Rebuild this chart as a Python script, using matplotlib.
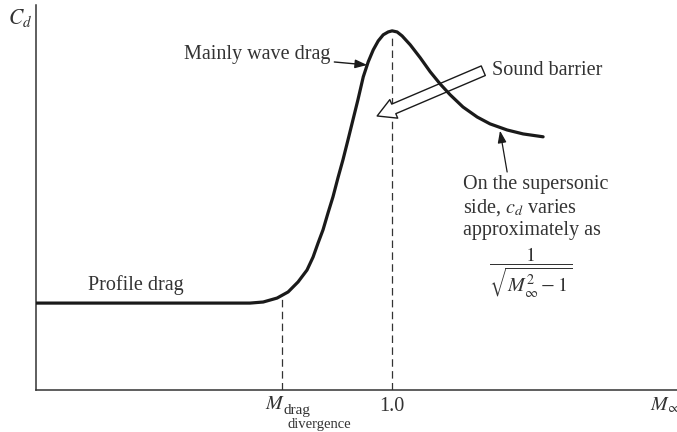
import matplotlib
matplotlib.use("Agg")
import matplotlib.pyplot as plt
from matplotlib.patches import FancyArrowPatch, ArrowStyle

plt.rcParams['font.family'] = ['Liberation Serif', 'DejaVu Serif']
plt.rcParams['mathtext.fontset'] = 'stix'

# Drag coefficient vs free-stream Mach number (schematic)
mach = [0.0, 0.601, 0.638, 0.677, 0.708, 0.736, 0.761, 0.778, 0.792, 0.806,
        0.820, 0.834, 0.848, 0.862, 0.876, 0.890, 0.904, 0.919, 0.933, 0.947,
        0.961, 0.975, 0.989, 1.000, 1.014, 1.028, 1.051, 1.079, 1.107, 1.135,
        1.163, 1.199, 1.239, 1.275, 1.323, 1.368, 1.424]
cd = [0.242, 0.242, 0.245, 0.256, 0.273, 0.301, 0.334, 0.370, 0.409, 0.446,
      0.493, 0.538, 0.591, 0.641, 0.696, 0.752, 0.808, 0.872, 0.914, 0.947,
      0.972, 0.989, 0.997, 1.000, 0.997, 0.986, 0.961, 0.925, 0.886, 0.852,
      0.822, 0.788, 0.760, 0.741, 0.724, 0.713, 0.705]
m_dd = 0.69
m_sonic = 1.0
tick_labels = ['1.0']

FS = 14.5
ink = '#1a1a1a'
txt = '#333333'

fig = plt.figure(figsize=(6.77, 4.32), dpi=100)
ax = fig.add_axes([36/677, 42/432, 1 - 36/677, 385/432])
ax.set_xlim(0, 1.80)
ax.set_ylim(0, 1.072)
for s in ['top', 'right']:
    ax.spines[s].set_visible(False)
for s in ['left', 'bottom']:
    ax.spines[s].set_linewidth(1.1)
    ax.spines[s].set_color(txt)
ax.set_yticks([])
ax.set_xticks([m_sonic])
ax.set_xticklabels(tick_labels, fontsize=FS, color=txt)
ax.tick_params(axis='x', length=0, pad=5)

# dashed guide lines
dash = (0, (6, 3.5))
ax.plot([m_dd, m_dd], [0, 0.265], color=txt, lw=0.9, ls=dash, zorder=1)
ax.plot([m_sonic, m_sonic], [0, 0.985], color=txt, lw=0.9, ls=dash, zorder=1)

# curve
ax.plot(mach, cd, color=ink, lw=2.3, solid_capstyle='round',
        solid_joinstyle='round', zorder=4)

# hollow "sound barrier" arrow
arr = FancyArrowPatch((1.256, 0.889), (0.958, 0.763),
                      arrowstyle=ArrowStyle.Simple(head_length=13, head_width=14.5,
                                                   tail_width=7.5),
                      mutation_scale=1, fc='white', ec=ink, lw=1.0,
                      shrinkA=0, shrinkB=0, zorder=3)
ax.add_patch(arr)
ax.text(1.281, 0.891, 'Sound barrier', fontsize=FS, ha='left', va='center',
        color=txt)

# Mainly wave drag
ax.annotate('Mainly wave drag', xy=(0.930, 0.905), xytext=(0.826, 0.933),
            fontsize=FS, ha='right', va='center', color=txt,
            arrowprops=dict(arrowstyle='-|>,head_length=0.5,head_width=0.18',
                            color=ink, lw=1.0, shrinkA=1, shrinkB=0))

# Profile drag
ax.text(0.2795, 0.292, 'Profile drag', fontsize=FS, ha='center', va='center',
        color=txt)

# supersonic annotation
ax.annotate('', xy=(1.303, 0.722), xytext=(1.323, 0.607),
            arrowprops=dict(arrowstyle='-|>,head_length=0.5,head_width=0.18',
                            color=ink, lw=0.9, shrinkA=0, shrinkB=0),
            fontsize=FS)
ax.text(1.199, 0.571, 'On the supersonic', fontsize=FS, ha='left', va='center',
        color=txt)
ax.text(1.199, 0.507, r'side, $c_d$ varies', fontsize=FS, ha='left', va='center',
        color=txt)
ax.text(1.199, 0.443, 'approximately as', fontsize=FS, ha='left', va='center',
        color=txt)
ax.text(1.390, 0.326, r'$\dfrac{1}{\sqrt{M_\infty^2 - 1}}$', fontsize=FS,
        ha='center', va='center', color=txt)

# axis labels
ax.text(-0.045, 1.036, r'$C_d$', fontsize=FS + 1, ha='center', va='center',
        color=txt, clip_on=False)
ax.text(0.671, -0.039, r'$M$', fontsize=FS, ha='center', va='center',
        color=txt, clip_on=False)
ax.text(0.694, -0.057, 'drag', fontsize=11, ha='left', va='center',
        color=txt, clip_on=False)
ax.text(0.705, -0.097, 'divergence', fontsize=10.5, ha='left', va='center',
        color=txt, clip_on=False)
ax.text(1.725, -0.042, r'$M_\infty$', fontsize=FS, ha='left', va='center',
        color=txt, clip_on=False)

fig.savefig('out.png', dpi=100)
